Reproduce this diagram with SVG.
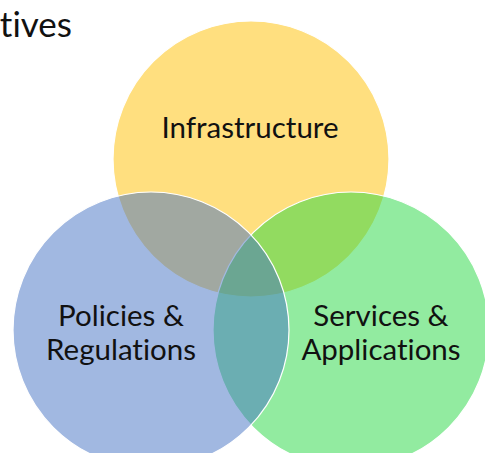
<svg xmlns="http://www.w3.org/2000/svg" width="485" height="453" viewBox="0 0 485 453">
<style>
text{font-variant-ligatures:none;font-feature-settings:"liga" 0,"dlig" 0}
.c{stroke:#ffffff;stroke-width:1.2;fill-opacity:0.5}
.t{font-family:Lato,"Open Sans",sans-serif;font-size:29.5px;fill:#111111;text-anchor:middle}
</style>
<rect width="485" height="453" fill="#ffffff"/>
<text x="72" y="37" font-family="Lato,'Open Sans',sans-serif" font-size="35" fill="#111111" text-anchor="end">tives</text>
<g id="infrastructure">
<circle class="c" cx="251" cy="159" r="138" fill="#FFC000"/>
</g>
<g id="services">
<circle class="c" cx="351" cy="330" r="138" fill="#25D741"/>
</g>
<g id="policies">
<circle class="c" cx="151" cy="330" r="138" fill="#4472C4"/>
</g>
<g id="connectors"></g>
<g id="labels">
<text class="t" x="250" y="138">Infrastructure</text>
<text class="t" x="121" y="326">Policies &amp;</text>
<text class="t" x="121" y="360">Regulations</text>
<text class="t" x="381" y="326">Services &amp;</text>
<text class="t" x="381" y="360">Applications</text>
</g>
</svg>
